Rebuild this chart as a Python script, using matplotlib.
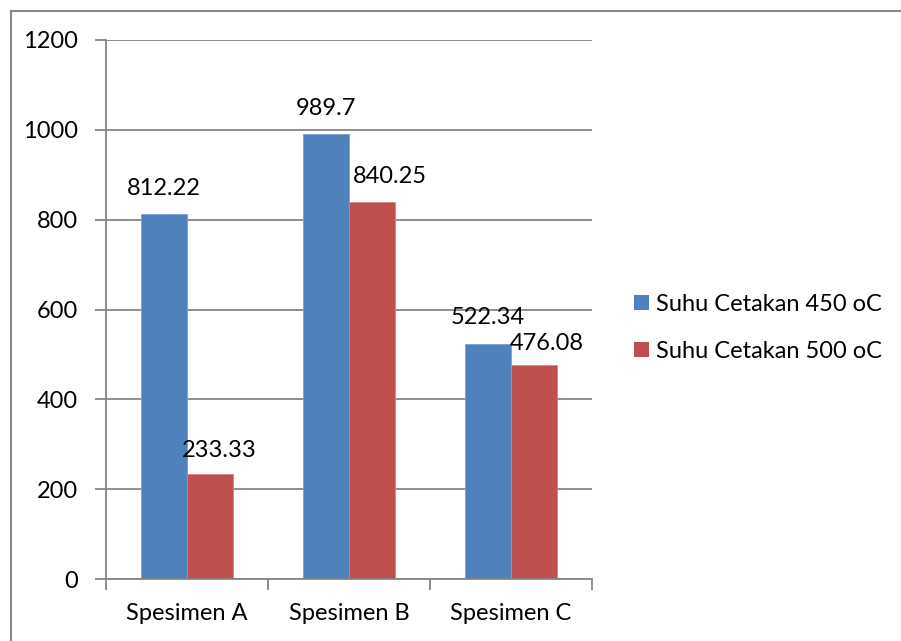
import matplotlib
matplotlib.use("Agg")
import matplotlib.pyplot as plt
from matplotlib.patches import Patch
from matplotlib.lines import Line2D
import numpy as np

categories = ["Spesimen A", "Spesimen B", "Spesimen C"]
series_names = ["Suhu Cetakan 450 oC", "Suhu Cetakan 500 oC"]
values_450 = [812.22, 989.7, 522.34]
values_500 = [233.33, 840.25, 476.08]
y_ticks = [0, 200, 400, 600, 800, 1000, 1200]

# label offsets in pixels (dx, dy above bar top)
label_offsets_450 = [(0, 19), (0, 19), (0, 20)]
label_offsets_500 = [(9, 17), (18, 19), (13, 15)]

plt.rcParams['font.family'] = ['Lato', 'DejaVu Sans']
DPI = 100
fig = plt.figure(figsize=(9.01, 6.41), dpi=DPI)
ax = fig.add_axes([106/901, 1-579/641, (592-106)/901, (579-40)/641])

blue = "#4F81BD"
red = "#C0504D"
grid_c = "#868686"
w = 1/3.5
x = np.arange(len(categories))
b1 = ax.bar(x - w/2, values_450, w, color=blue, edgecolor="#7a9fd0", linewidth=0.6, zorder=3)
b2 = ax.bar(x + w/2, values_500, w, color=red, edgecolor="#d48583", linewidth=0.6, zorder=3)

ax.set_xlim(-0.5, len(categories) - 0.5)
ax.set_ylim(0, 1200)
ax.set_yticks(y_ticks)
ax.set_yticklabels([str(v) for v in y_ticks], fontsize=17)
ax.set_xticks(np.arange(len(categories) + 1) - 0.5)
ax.set_xticklabels([])
ax.set_xticks(x, minor=True)
ax.set_xticklabels(categories, minor=True, fontsize=17)
ax.tick_params(axis='x', which='minor', length=0, pad=17)
ax.tick_params(axis='x', which='major', length=8, width=1.3, color=grid_c, direction='out')
ax.tick_params(axis='y', length=8, width=1.3, color=grid_c, direction='out', pad=12)

ax.yaxis.grid(True, color=grid_c, linewidth=1.3, zorder=0)
ax.set_axisbelow(True)
for s in ['top', 'right']:
    ax.spines[s].set_visible(False)
for s in ['left', 'bottom']:
    ax.spines[s].set_color(grid_c)
    ax.spines[s].set_linewidth(1.3)
    ax.spines[s].set_zorder(4)

pt = 72 / DPI
for bars, vals, offs in ((b1, values_450, label_offsets_450), (b2, values_500, label_offsets_500)):
    for rect, v, (dx, dy) in zip(bars, vals, offs):
        ax.annotate(f"{v:g}", (rect.get_x() + rect.get_width()/2, v),
                    xytext=(dx*pt, dy*pt), textcoords='offset points',
                    ha='center', va='baseline', fontsize=17, color='black', zorder=5)

handles = [Patch(facecolor=blue, edgecolor='none'), Patch(facecolor=red, edgecolor='none')]
fig.legend(handles, series_names, loc='center left', bbox_to_anchor=(634/901, 1-328/641),
           frameon=False, fontsize=17, handlelength=0.62, handleheight=0.62,
           handletextpad=0.3, labelspacing=1.1, borderpad=0, borderaxespad=0)

# outer border (top and left visible)
fig.add_artist(Line2D([10.5/901, 1], [1-11/641, 1-11/641], color="#898989", linewidth=1.5, transform=fig.transFigure))
fig.add_artist(Line2D([10.5/901, 10.5/901], [0, 1-11/641], color="#898989", linewidth=1.5, transform=fig.transFigure))

fig.savefig("out.png", dpi=DPI)
